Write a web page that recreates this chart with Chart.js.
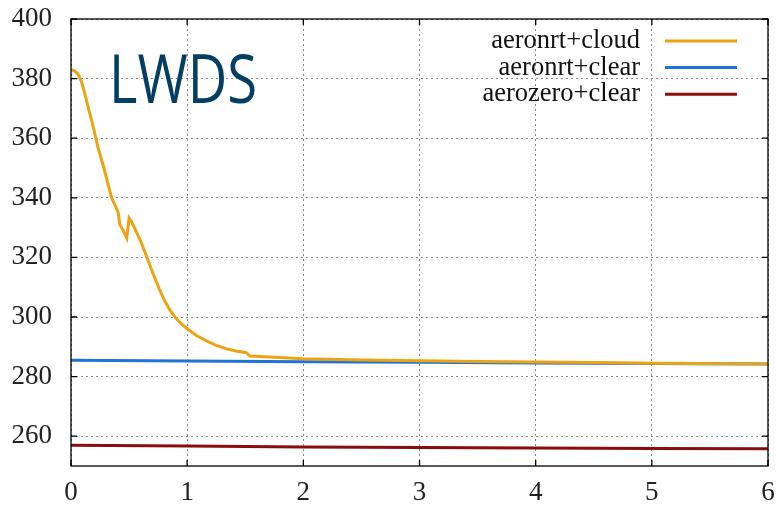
<!DOCTYPE html>
<html>
<head>
<meta charset="utf-8">
<script src="https://cdn.jsdelivr.net/npm/chart.js@4/dist/chart.umd.min.js"></script>
<style>
html,body{margin:0;padding:0;background:#fff;}
#wrap{width:778px;height:507px;position:relative;}
</style>
</head>
<body>
<div id="wrap"><canvas id="c"></canvas></div>
<script>
// ---- data ----
const chartTitle = "LWDS";
const seriesNames = ["aeronrt+cloud", "aeronrt+clear", "aerozero+clear"];
const seriesColors = ["#eea412", "#1f74d6", "#8b0c0c"];

const cloudX = [0, 0.03, 0.06, 0.09, 0.12, 0.15, 0.18, 0.235, 0.28, 0.35, 0.38, 0.407, 0.42, 0.45, 0.48, 0.50, 0.52, 0.594, 0.65, 0.71, 0.76, 0.80, 0.85, 0.90, 0.95, 1.01, 1.08, 1.17, 1.25, 1.34, 1.42, 1.51, 1.54, 1.75, 2.0, 2.5, 3.0, 3.5, 4.0, 4.5, 5.0, 6.0];
const cloudY = [383.0, 382.6, 381.6, 379.0, 374.8, 370.0, 365.6, 356.5, 350.5, 339.9, 337.5, 334.9, 331.0, 329.0, 326.5, 333.2, 332.1, 326.0, 320.4, 314.2, 309.4, 305.9, 302.4, 299.7, 297.7, 295.8, 293.8, 291.9, 290.5, 289.3, 288.6, 288.0, 286.9, 286.5, 286.0, 285.6, 285.3, 285.1, 284.9, 284.7, 284.5, 284.2];

const clearX = [0, 1, 2, 3, 4, 5, 6];
const clearY = [285.5, 285.2, 285.0, 284.8, 284.6, 284.4, 284.2];

const zeroX = [0, 1, 2, 3, 4, 5, 6];
const zeroY = [257.0, 256.7, 256.4, 256.2, 256.0, 255.9, 255.8];

const xTicks = [0, 1, 2, 3, 4, 5, 6];
const yTicks = [260, 280, 300, 320, 340, 360, 380, 400];
const yMin = 250, yMax = 400;

function pts(xs, ys){ return xs.map((x,i)=>({x:x, y:ys[i]})); }

const serifFont = "'Liberation Serif', 'Times New Roman', serif";

const boxPlugin = {
  id: 'boxPlugin',
  afterDatasetsDraw(chart){
    const ctx = chart.ctx, a = chart.chartArea;
    const xs = chart.scales.x, ys = chart.scales.y;
    ctx.save();
    ctx.strokeStyle = '#000';
    ctx.lineWidth = 1.3;
    ctx.strokeRect(a.left, a.top, a.right - a.left, a.bottom - a.top);
    // inward tick marks (mirrored on all sides)
    const L = 6;
    ctx.beginPath();
    xTicks.forEach(v=>{
      const px = xs.getPixelForValue(v);
      ctx.moveTo(px, a.bottom); ctx.lineTo(px, a.bottom - L);
      ctx.moveTo(px, a.top); ctx.lineTo(px, a.top + L);
    });
    yTicks.forEach(v=>{
      const py = ys.getPixelForValue(v);
      ctx.moveTo(a.left, py); ctx.lineTo(a.left + L, py);
      ctx.moveTo(a.right, py); ctx.lineTo(a.right - L, py);
    });
    ctx.stroke();

    // legend (gnuplot style: text right, sample line after it)
    ctx.font = "26.5px " + serifFont;
    ctx.textAlign = 'right';
    ctx.textBaseline = 'middle';
    chart.data.datasets.forEach((ds, i)=>{
      const y = 41 + i * 26.6;
      ctx.fillStyle = '#111';
      ctx.fillText(ds.label, 640, y);
      ctx.strokeStyle = ds.borderColor;
      ctx.lineWidth = 3;
      ctx.beginPath();
      ctx.moveTo(665, y); ctx.lineTo(737, y);
      ctx.stroke();
    });

    // big title inside plot
    ctx.font = "67px 'Open Sans', 'Noto Sans', sans-serif";
    ctx.textAlign = 'left';
    ctx.textBaseline = 'alphabetic';
    const w = ctx.measureText(chartTitle).width;
    const sx = 148 / w;
    ctx.translate(109, 103);
    ctx.scale(sx, 1);
    ctx.fillStyle = '#053e63';
    ctx.fillText(chartTitle, 0, 0);
    ctx.restore();
  }
};

new Chart(document.getElementById('c'), {
  type: 'line',
  data: {
    datasets: [
      {label: seriesNames[0], data: pts(cloudX, cloudY), borderColor: seriesColors[0], backgroundColor: seriesColors[0], borderWidth: 3, pointRadius: 0, tension: 0, fill: false},
      {label: seriesNames[1], data: pts(clearX, clearY), borderColor: seriesColors[1], backgroundColor: seriesColors[1], borderWidth: 3, pointRadius: 0, tension: 0, fill: false},
      {label: seriesNames[2], data: pts(zeroX, zeroY), borderColor: seriesColors[2], backgroundColor: seriesColors[2], borderWidth: 3, pointRadius: 0, tension: 0, fill: false}
    ]
  },
  options: {
    responsive: true,
    maintainAspectRatio: false,
    animation: false,
    layout: {padding: {top: 19, right: 10, left: 0, bottom: 0}},
    plugins: {legend: {display: false}, title: {display: false}, tooltip: {enabled: false}},
    scales: {
      x: {
        type: 'linear', min: 0, max: 6,
        afterBuildTicks(axis){ axis.ticks = xTicks.map(v=>({value:v})); },
        afterFit(axis){ axis.height = 41; axis.paddingLeft = 0; axis.paddingRight = 0; },
        grid: {color: '#888', lineWidth: 1, drawTicks: false},
        border: {display: false, dash: [2, 3]},
        ticks: {font: {family: serifFont, size: 27}, color: '#222', padding: 11, maxRotation: 0}
      },
      y: {
        type: 'linear', min: yMin, max: yMax,
        afterBuildTicks(axis){ axis.ticks = yTicks.map(v=>({value:v})); },
        afterFit(axis){ axis.width = 71; axis.paddingTop = 0; axis.paddingBottom = 0; },
        grid: {color: '#888', lineWidth: 1, drawTicks: false},
        border: {display: false, dash: [2, 3]},
        ticks: {font: {family: serifFont, size: 27}, color: '#222', padding: 19}
      }
    }
  },
  plugins: [boxPlugin]
});
</script>
</body>
</html>
